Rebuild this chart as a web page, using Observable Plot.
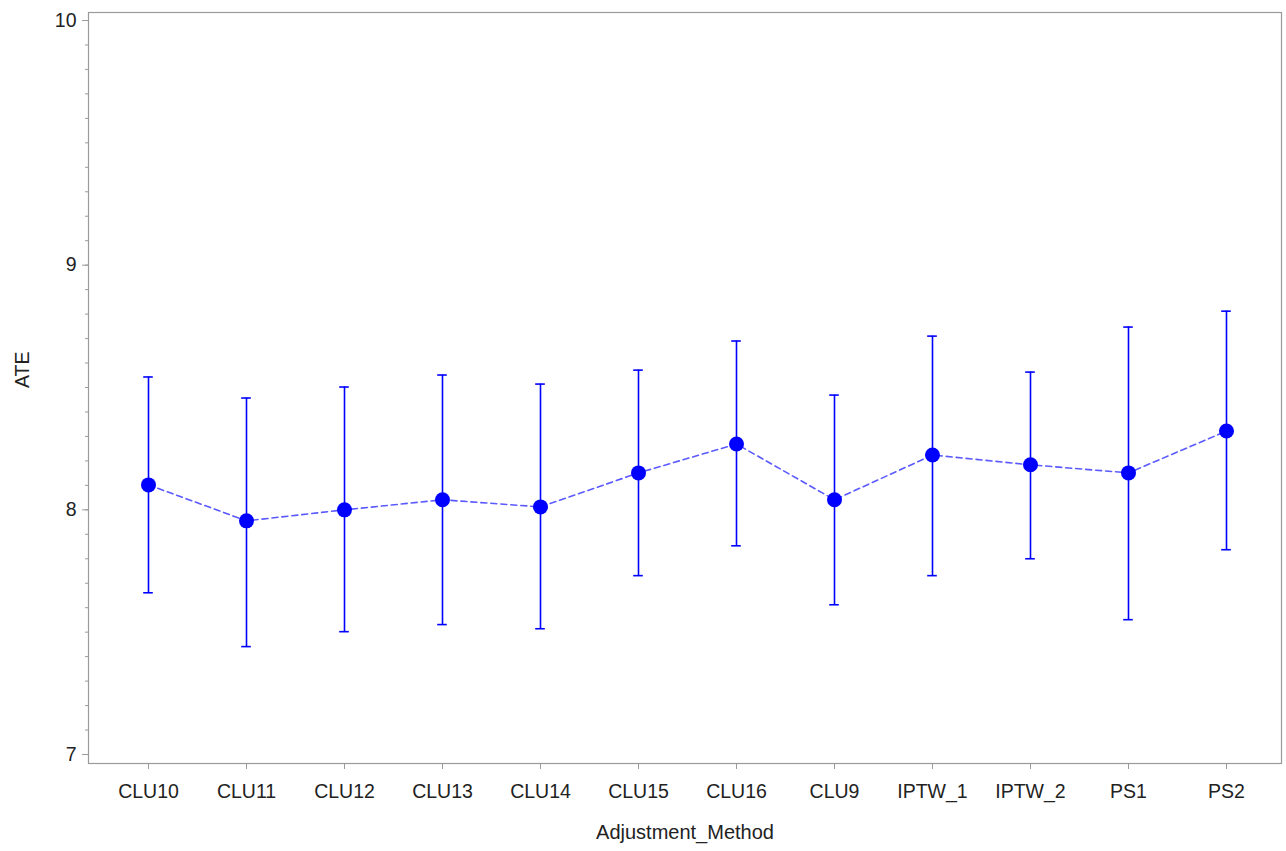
<!DOCTYPE html>
<html>
<head>
<meta charset="utf-8">
<script src="https://cdn.jsdelivr.net/npm/d3@7"></script>
<script src="https://cdn.jsdelivr.net/npm/@observablehq/plot@0.6"></script>
<style>
body { margin: 0; background: #fff; }
#chart svg { display: block; }
</style>
</head>
<body>
<div id="chart"></div>
<script>
const methods = ["CLU10","CLU11","CLU12","CLU13","CLU14","CLU15","CLU16","CLU9","IPTW_1","IPTW_2","PS1","PS2"];
const ate   = [8.102, 7.955, 8.000, 8.041, 8.012, 8.151, 8.269, 8.041, 8.224, 8.184, 8.151, 8.322];
const lower = [7.661, 7.441, 7.502, 7.531, 7.514, 7.731, 7.853, 7.612, 7.731, 7.800, 7.551, 7.837];
const upper = [8.543, 8.457, 8.502, 8.551, 8.514, 8.571, 8.690, 8.469, 8.710, 8.563, 8.747, 8.812];
const majorTicks = [7, 8, 9, 10];
const minorTicks = d3.range(70, 101).map(d => d / 10);

const data = methods.map((m, i) => ({method: m, ate: ate[i], lo: lower[i], hi: upper[i]}));

const font = "'Liberation Sans', Arial, sans-serif";
const axisColor = "#9a9a9a";
const textColor = "#222";

const chart = Plot.plot({
  width: 1286,
  height: 851,
  marginLeft: 88,
  marginRight: 5,
  marginTop: 12,
  marginBottom: 88,
  style: {fontFamily: font, fontSize: "19.5px", color: textColor, background: "#fff"},
  x: {type: "band", domain: methods, range: [96.8, 1277.2], padding: 0, axis: null},
  y: {domain: [7, 10], range: [754, 20], axis: null},
  marks: [
    Plot.frame({stroke: axisColor, strokeWidth: 1.2}),
    Plot.axisY(minorTicks, {tickSize: 3, text: null, stroke: axisColor, label: null}),
    Plot.axisY(majorTicks, {tickSize: 6, tickPadding: 6, stroke: axisColor, fill: textColor, tickFormat: d => String(d), label: null}),
    Plot.axisX(methods, {tickSize: 6, tickPadding: 15, stroke: axisColor, fill: textColor, label: null}),
    Plot.text(["ATE"], {frameAnchor: "left", rotate: -90, dx: -66, dy: 0, fill: textColor, fontSize: 19.5}),
    Plot.text(["Adjustment_Method"], {frameAnchor: "bottom", dy: 75, fill: textColor, fontSize: 20}),
    Plot.ruleX(data, {x: "method", y1: "lo", y2: "hi", stroke: "#0000ff", strokeWidth: 1.6}),
    Plot.tickY(data, {x: "method", y: "lo", stroke: "#0000ff", strokeWidth: 1.6, insetLeft: 44.2, insetRight: 44.2}),
    Plot.tickY(data, {x: "method", y: "hi", stroke: "#0000ff", strokeWidth: 1.6, insetLeft: 44.2, insetRight: 44.2}),
    Plot.line(data, {x: "method", y: "ate", stroke: "#5a5aff", strokeWidth: 1.6, strokeDasharray: "6,4"}),
    Plot.dot(data, {x: "method", y: "ate", r: 7.5, fill: "#0000ff", stroke: "none"})
  ]
});
document.getElementById("chart").appendChild(chart);
</script>
</body>
</html>
